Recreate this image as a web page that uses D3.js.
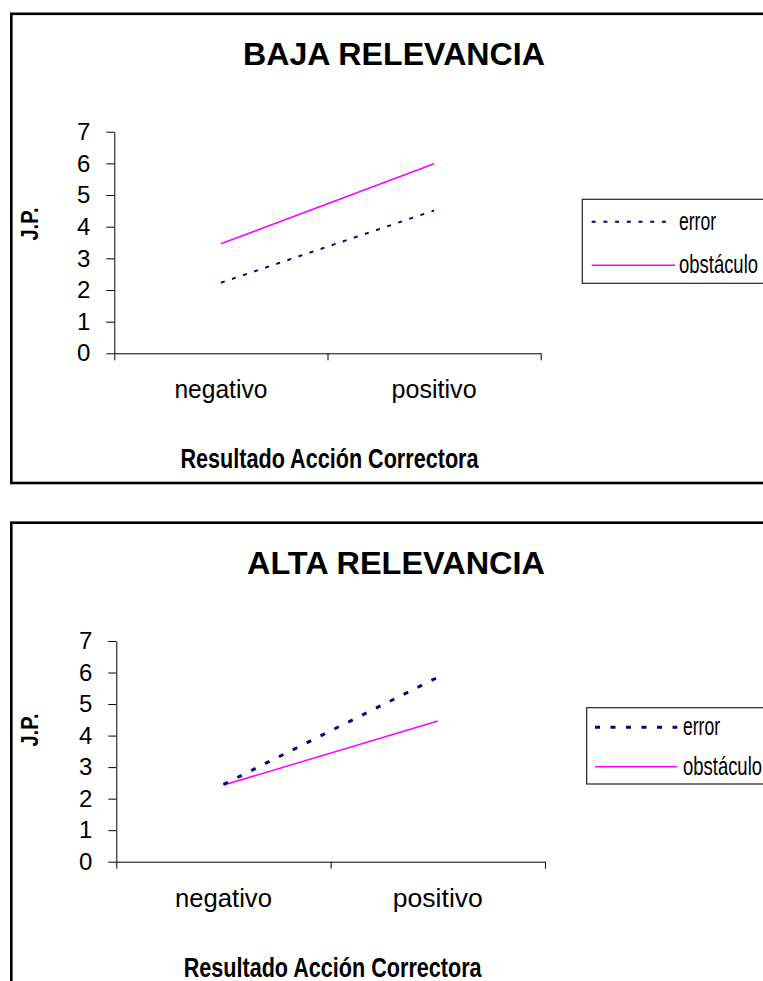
<!DOCTYPE html>
<html>
<head>
<meta charset="utf-8">
<script src="https://cdn.jsdelivr.net/npm/d3@7"></script>
<style>
  html, body { margin: 0; padding: 0; background: #fff; overflow: hidden; }
  svg { display: block; font-family: "Liberation Sans", Arial, sans-serif; }
</style>
</head>
<body>
<svg id="chart" width="763" height="981"></svg>
<script>
// data
const categories = ["negativo", "positivo"];
const seriesNames = ["error", "obstáculo"];
const bajaError = [2.23, 4.51];
const bajaObstaculo = [3.46, 5.99];
const altaError = [2.45, 5.85];
const altaObstaculo = [2.43, 4.46];
const yTicks = [0, 1, 2, 3, 4, 5, 6, 7];
const titles = ["BAJA RELEVANCIA", "ALTA RELEVANCIA"];
const yTitle = "J.P.";
const xTitle = "Resultado Acción Correctora";

const colors = { error: "#000080", obst: "#ff00ff" };

// two stacked panels, the lower one a touch wider
const panels = [
  { title: titles[0], error: bajaError, obst: bajaObstaculo,
    top: 13.8, bottom: 483, xl: 114.3, xr: 540.7, y0: 353.3, y7: 131.7,
    titleX: 243, titleW: 302, titleY: 64.5,
    catW: [93, 85], jpY: 224,
    leg: { x: 582.3, y: 199.3, h: 84, l1: 221.7, l2: 265.3, x0: 591.7, x1e: 668.3, x1o: 675, tx: 679 },
    dash: "4,7.7", dashW: 2 },
  { title: titles[1], error: altaError, obst: altaObstaculo,
    top: 522.7, bottom: 1100, xl: 116.3, xr: 545, y0: 861.7, y7: 641,
    titleX: 247, titleW: 298, titleY: 573.5,
    catW: [97, 90], jpY: 730,
    leg: { x: 586.7, y: 707.7, h: 76.3, l1: 727.3, l2: 766.7, x0: 595, x1e: 677.3, x1o: 677.3, tx: 683 },
    dash: "5,10.5", dashW: 3 }
];

const svg = d3.select("#chart");

panels.forEach(p => {
  const g = svg.append("g");

  // frame
  g.append("rect")
    .attr("x", 11.3).attr("y", p.top)
    .attr("width", 800).attr("height", p.bottom - p.top)
    .attr("fill", "none").attr("stroke", "#000").attr("stroke-width", 2.6);

  // title
  g.append("text")
    .attr("x", p.titleX).attr("y", p.titleY)
    .attr("font-size", 31).attr("font-weight", "bold")
    .attr("textLength", p.titleW).attr("lengthAdjust", "spacingAndGlyphs")
    .text(p.title);

  const x = d3.scaleBand().domain(categories).range([p.xl, p.xr]);
  const xEdge = d3.scaleLinear().domain([0, categories.length]).range([p.xl, p.xr]);
  const y = d3.scaleLinear().domain([0, 7]).range([p.y0, p.y7]);

  // axes
  const ya = g.append("g").attr("transform", `translate(${p.xl},0)`)
    .call(d3.axisLeft(y).tickValues(yTicks).tickFormat(d3.format("d"))
      .tickSize(8).tickSizeOuter(0).tickPadding(16));
  ya.selectAll("text").attr("font-size", 24).attr("fill", "#000")
    .attr("font-family", "'Liberation Sans', Arial, sans-serif");

  const xa = g.append("g").attr("transform", `translate(0,${p.y0})`)
    .call(d3.axisBottom(xEdge).tickValues(d3.range(categories.length + 1))
      .tickSize(7).tickSizeOuter(0).tickFormat(""));
  [ya, xa].forEach(a => {
    a.selectAll("path, line").attr("stroke", "#000").attr("stroke-width", 1);
  });

  // category labels
  g.selectAll("text.cat").data(categories).join("text")
    .attr("class", "cat")
    .attr("x", d => x(d) + x.bandwidth() / 2)
    .attr("y", p.y0 + 45)
    .attr("text-anchor", "middle")
    .attr("font-size", 25)
    .attr("textLength", (d, i) => p.catW[i]).attr("lengthAdjust", "spacingAndGlyphs")
    .text(d => d);

  // axis titles
  g.append("text")
    .attr("x", (p.xl + p.xr) / 2 + 2).attr("y", p.y0 + 115)
    .attr("text-anchor", "middle")
    .attr("font-size", 27).attr("font-weight", "bold")
    .attr("textLength", 298).attr("lengthAdjust", "spacingAndGlyphs")
    .text(xTitle);

  g.append("text")
    .attr("transform", `translate(38,${p.jpY}) rotate(-90)`)
    .attr("text-anchor", "middle")
    .attr("font-size", 23).attr("font-weight", "bold")
    .attr("textLength", 33).attr("lengthAdjust", "spacingAndGlyphs")
    .text(yTitle);

  // series
  const line = d3.line()
    .x((d, i) => x(categories[i]) + x.bandwidth() / 2)
    .y(d => y(d));

  g.append("path").datum(p.obst)
    .attr("d", line).attr("fill", "none")
    .attr("stroke", colors.obst).attr("stroke-width", 1.5);

  g.append("path").datum(p.error)
    .attr("d", line).attr("fill", "none")
    .attr("stroke", colors.error).attr("stroke-width", p.dashW)
    .attr("stroke-dasharray", p.dash);

  // legend
  const L = p.leg;
  g.append("rect")
    .attr("x", L.x).attr("y", L.y).attr("width", 300).attr("height", L.h)
    .attr("fill", "#fff").attr("stroke", "#222").attr("stroke-width", 1.2);

  g.append("line")
    .attr("x1", L.x0).attr("x2", L.x1e).attr("y1", L.l1).attr("y2", L.l1)
    .attr("stroke", colors.error).attr("stroke-width", p.dashW)
    .attr("stroke-dasharray", p.dash);
  g.append("line")
    .attr("x1", L.x0).attr("x2", L.x1o).attr("y1", L.l2).attr("y2", L.l2)
    .attr("stroke", colors.obst).attr("stroke-width", 1.5);

  const legW = [37, 79];
  g.selectAll("text.leg").data(seriesNames).join("text")
    .attr("class", "leg")
    .attr("x", L.tx)
    .attr("y", (d, i) => (i === 0 ? L.l1 : L.l2) + 8)
    .attr("font-size", 26)
    .attr("textLength", (d, i) => legW[i]).attr("lengthAdjust", "spacingAndGlyphs")
    .text(d => d);
});
</script>
</body>
</html>
